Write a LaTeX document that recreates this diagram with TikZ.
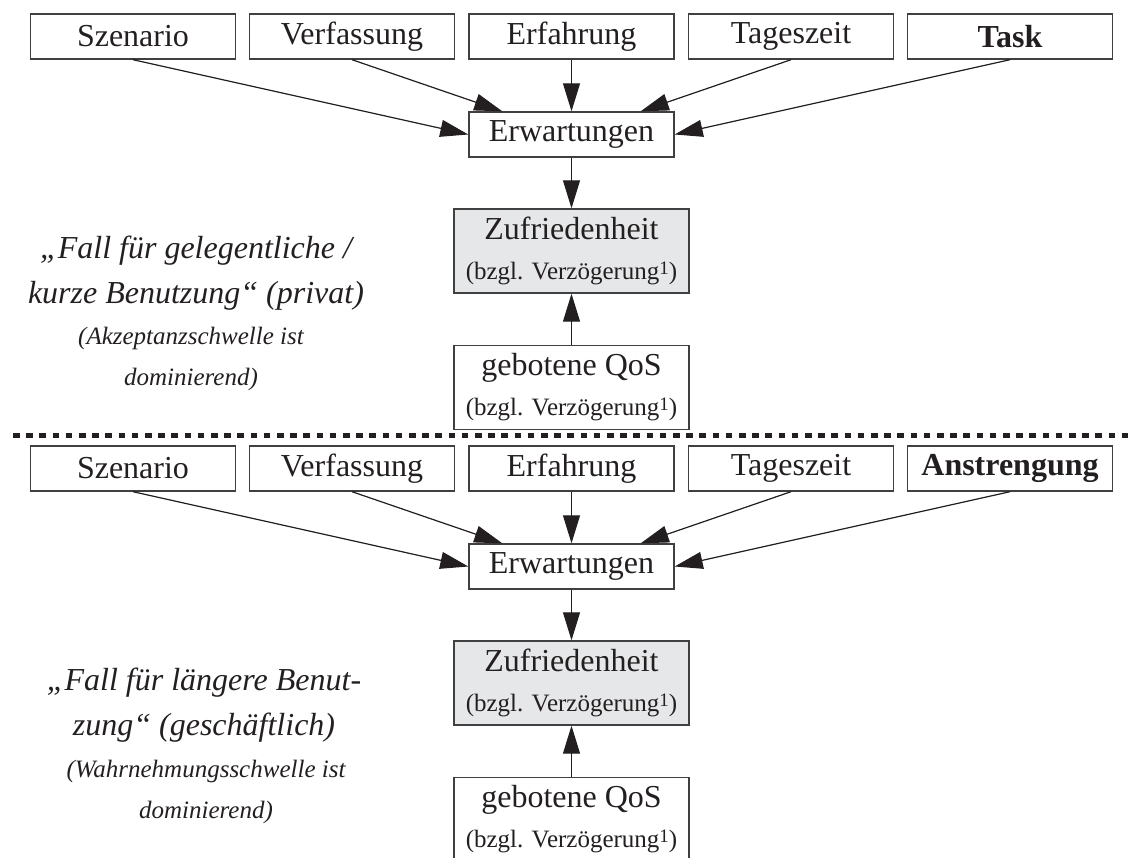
\documentclass[tikz,border=0pt]{standalone}
\usepackage{fontspec}
\setmainfont{Liberation Serif}
\usetikzlibrary{arrows.meta}

\definecolor{framegray}{HTML}{404040}
\definecolor{fillgray}{HTML}{E6E7E8}
\definecolor{inkblack}{HTML}{231F20}

\newcommand{\delaynote}{{\fontsize{12.5}{14}\selectfont (bzgl. Verzögerung\raisebox{0.45ex}{\fontsize{9.5}{10}\selectfont 1})}}

\begin{document}
\begin{tikzpicture}[x=0.5pt, y=-0.5pt,
    box/.style={draw=framegray, line width=0.7pt, minimum width=102.5pt, minimum height=22.5pt,
        inner sep=0pt, text=inkblack, font=\fontsize{16}{19}\selectfont},
    qosbox/.style={box, minimum width=117.5pt, minimum height=42pt, align=center},
    arr/.style={-{Triangle[length=14pt, width=8.5pt]}, line width=0.6pt, draw=inkblack, fill=inkblack},
    case/.style={align=center, text=inkblack, font=\itshape\fontsize{16}{22.5}\selectfont},
    note/.style={align=center, text=inkblack, font=\itshape\fontsize{12.5}{20.5}\selectfont}]
    \useasboundingbox (0,0) rectangle (1129,857);

    % Both cases, the second one shifted down
    \foreach \i/\dy/\last in {1/0/Task, 2/432/Anstrengung} {
        % Influences
        \node[box] (szen\i) at (133, 36.5+\dy) {Szenario};
        \node[box] (verf\i) at (352, 36.5+\dy) {Verfassung};
        \node[box] (erf\i) at (571.5, 36.5+\dy) {Erfahrung};
        \node[box] (tag\i) at (791, 36.5+\dy) {Tageszeit};
        \node[box] (last\i) at (1010, 36.5+\dy) {\textbf{\last}};

        % Expectations, satisfaction and offered QoS
        \node[box] (erw\i) at (571.5, 134.5+\dy) {Erwartungen};
        \node[qosbox, fill=fillgray] (zuf\i) at (571.5, 251+\dy) {Zufriedenheit\\[1pt]\delaynote};
        \node[qosbox] (qos\i) at (571.5, 387.5+\dy) {gebotene QoS\\[1pt]\delaynote};

        % Arrows
        \draw[arr] (szen\i.south) -- (erw\i.west);
        \draw[arr] (verf\i.south) -- ([xshift=17pt]erw\i.north west);
        \draw[arr] (erf\i) -- (erw\i);
        \draw[arr] (tag\i.south) -- ([xshift=-17pt]erw\i.north east);
        \draw[arr] (last\i.south) -- (erw\i.east);
        \draw[arr] (erw\i) -- (zuf\i);
        \draw[arr] (qos\i) -- (zuf\i);
    }

    % Separator
    \draw[inkblack, line width=2.2pt, dash pattern=on 3.3pt off 3.3pt] (13, 435.5) -- (1129, 435.5);

    % Case descriptions
    \node[case] (case1) at (196, 273) {„Fall für gelegentliche /\\kurze Benutzung“ (privat)};
    \node[note] (note1) at (191, 359) {(Akzeptanzschwelle ist\\dominierend)};
    \node[case] (case2) at (204, 705) {„Fall für längere Benut-\\zung“ (geschäftlich)};
    \node[note] (note2) at (206, 792) {(Wahrnehmungsschwelle ist\\dominierend)};
\end{tikzpicture}
\end{document}
